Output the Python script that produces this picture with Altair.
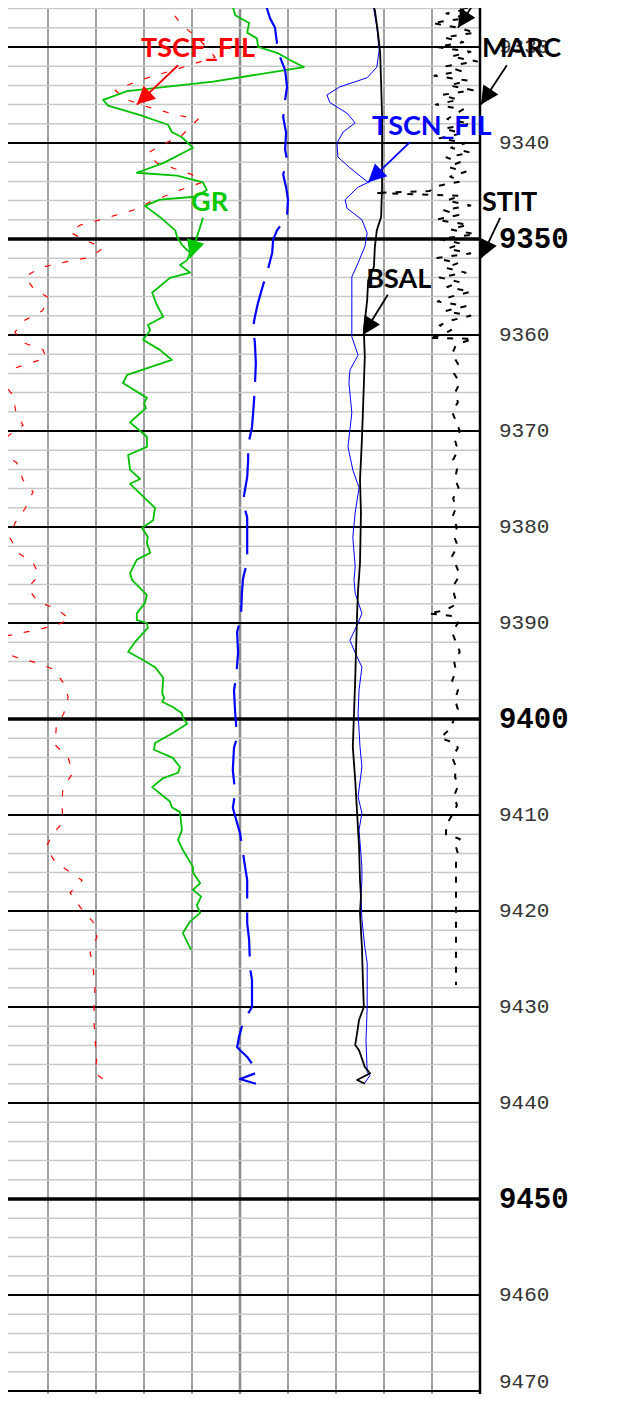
import math
import altair as alt
import pandas as pd

# ---------------- layout of the log sheet (depth in ft, track value 0-100) ----------
TOP_DEPTH = 9325.937
BOTTOM_DEPTH = 9470.3123
TRACK_LEFT = 1.6667
TRACK_RIGHT = 128.5417
W, H = 609, 1386

# ---------------- curves ----------------
GR_DEPTH = [9325.1, 9325.8, 9326.7, 9327.5, 9328.5, 9329.1, 9330.0, 9330.6, 9331.35, 9332.1,
            9333.6, 9334.6, 9335.5, 9336.1, 9337.1, 9338.1, 9338.85, 9339.4, 9340.5, 9342.1,
            9343.1, 9343.4, 9344.1, 9344.9, 9345.6, 9345.9, 9346.55, 9347.7, 9349.1, 9349.8,
            9350.6, 9351.45, 9352.2, 9352.7, 9353.5, 9354.05, 9355.6, 9356.9, 9358.1, 9358.95,
            9359.5, 9360.5, 9361.55, 9362.6, 9364.15, 9365.0, 9366.55, 9367.1, 9367.6, 9369.1,
            9370.6, 9371.65, 9372.5, 9374.05, 9375.0, 9375.5, 9377.2, 9378.0, 9379.3, 9380.1,
            9381.05, 9381.65, 9382.7, 9383.4, 9384.8, 9385.5, 9387.1, 9387.9, 9389.0, 9389.7,
            9390.0, 9390.5, 9392.0, 9393.0, 9393.85, 9394.6, 9395.7, 9397.3, 9397.8, 9398.2,
            9398.75, 9399.4, 9399.9, 9400.5, 9401.45, 9402.5, 9403.2, 9404.05, 9405.0, 9405.6,
            9406.15, 9407.1, 9408.6, 9409.2, 9409.7, 9411.55, 9412.6, 9413.65, 9415.4, 9416.0,
            9416.8, 9417.1, 9417.8, 9418.5, 9419.4, 9420.2, 9421.1, 9422.3, 9424.05]
GR_VAL = [47.3, 48.5, 49.0, 51.9, 51.5, 53.5, 53.8, 57.7, 60.4, 63.3,
          44.4, 26.5, 21.5, 22.5, 29.2, 35.0, 35.8, 37.9, 40.2, 34.0,
          28.5, 36.9, 42.3, 43.1, 40.6, 33.3, 30.2, 33.3, 36.5, 36.9,
          37.9, 39.6, 39.0, 37.5, 39.6, 35.4, 31.7, 32.7, 34.0, 30.8,
          31.3, 29.8, 33.3, 35.8, 26.5, 25.6, 30.6, 30.0, 30.4, 27.1,
          30.6, 30.6, 26.7, 27.1, 29.2, 27.1, 30.6, 32.3, 31.9, 29.6,
          30.8, 30.6, 31.3, 28.5, 27.1, 27.5, 30.6, 30.2, 28.5, 28.5,
          30.6, 30.8, 28.1, 26.7, 29.8, 32.3, 34.0, 33.8, 34.2, 33.8,
          36.0, 37.9, 38.1, 39.0, 36.0, 32.3, 32.1, 36.0, 37.5, 37.1,
          34.0, 31.7, 35.4, 35.8, 37.5, 37.9, 37.1, 38.1, 40.2, 40.2,
          41.3, 41.7, 40.2, 41.9, 41.0, 41.7, 39.6, 38.1, 39.8]

TSCF_DEPTH = [9325.1, 9326.35, 9327.7, 9329.3, 9331.05, 9332.2, 9333.45, 9334.5, 9335.4, 9336.1,
              9337.1, 9337.5, 9339.4, 9340.0, 9341.05, 9342.1, 9342.6, 9343.3, 9344.1, 9344.9,
              9346.15, 9347.0, 9348.0, 9348.55, 9349.3, 9350.1, 9350.95, 9351.9, 9352.5, 9353.0,
              9353.95, 9355.1, 9356.15, 9357.5, 9358.45, 9359.7, 9360.8, 9361.55, 9362.4, 9363.0,
              9363.55, 9364.9, 9366.25, 9368.0, 9369.4, 9370.5, 9372.3, 9373.3, 9375.1, 9376.35,
              9378.1, 9379.6, 9381.15, 9382.7, 9383.75, 9385.0, 9386.35, 9387.8, 9388.45, 9389.6,
              9390.2, 9390.7, 9391.05, 9391.45, 9393.0, 9393.65, 9394.15, 9394.8, 9396.15, 9397.7,
              9399.4, 9400.95, 9402.7, 9404.05, 9405.6, 9407.2, 9408.85, 9410.75, 9412.0, 9413.35,
              9414.9, 9415.95, 9416.8, 9418.1, 9419.6, 9421.15, 9422.7, 9424.3, 9425.95, 9427.9,
              9429.8, 9431.65, 9433.45, 9435.2, 9436.9, 9437.8]
TSCF_VAL = [36.9, 35.8, 37.9, 41.7, 44.8, 37.5, 29.2, 24.0, 26.0, 29.8,
            36.9, 41.3, 37.5, 34.4, 30.8, 32.7, 36.0, 40.0, 42.1, 37.5,
            31.3, 27.7, 20.8, 16.7, 14.6, 17.7, 21.5, 18.8, 12.5, 8.3,
            5.2, 6.9, 10.2, 8.8, 5.2, 3.1, 4.8, 9.0, 9.6, 5.8,
            2.5, 0.4, 2.7, 3.3, 4.8, 1.7, 0.4, 3.5, 4.8, 6.9,
            5.2, 3.1, 2.1, 3.8, 6.9, 8.1, 5.8, 7.9, 11.5, 14.6,
            11.9, 7.9, 4.2, 0.4, 0.4, 3.8, 7.7, 11.0, 13.1, 14.2,
            13.3, 11.7, 11.5, 14.2, 15.2, 13.1, 12.9, 13.1, 11.0, 9.6,
            11.5, 14.6, 17.1, 14.6, 16.7, 19.4, 20.2, 18.8, 19.4, 19.8,
            19.6, 19.6, 19.8, 20.2, 19.8, 22.3]

TSCN_DEPTH = [9325.1, 9326.15, 9327.9, 9330.3, 9332.1, 9333.2, 9334.15, 9335.0, 9335.8, 9336.9,
              9337.9, 9338.85, 9340.0, 9341.45, 9342.6, 9344.1, 9344.6, 9345.9, 9346.8, 9348.0,
              9349.4, 9350.8, 9352.5, 9353.95, 9356.0, 9357.7, 9360.2, 9362.1, 9363.65, 9365.0,
              9368.1, 9371.65, 9374.05, 9375.9, 9378.5, 9381.05, 9384.15, 9385.5, 9386.9, 9389.0,
              9390.0, 9391.8, 9393.1, 9394.6, 9397.0, 9399.4, 9402.9, 9405.0, 9408.1, 9409.8,
              9411.55, 9415.4, 9416.8, 9418.5, 9420.9, 9423.75, 9425.4, 9430.0, 9433.45, 9436.8,
              9437.1, 9437.9]
TSCN_VAL = [78.75, 77.9, 78.5, 79.0, 78.5, 76.5, 70.8, 68.1, 68.75, 72.3,
            74.0, 71.5, 70.2, 70.4, 72.9, 76.7, 74.6, 71.9, 72.3, 75.4,
            76.5, 76.0, 74.6, 73.3, 73.3, 73.3, 73.3, 74.6, 72.9, 72.7,
            73.3, 72.5, 73.5, 74.8, 74.0, 73.5, 74.0, 73.75, 74.0, 75.4,
            74.6, 72.9, 74.0, 75.4, 74.8, 74.6, 75.0, 75.4, 74.6, 75.4,
            74.8, 75.4, 75.4, 75.2, 75.4, 76.0, 76.5, 76.5, 76.25, 76.5,
            77.1, 76.0]

BSAL_DEPTH = [9325.1, 9326.15, 9328.55, 9330.6, 9333.75, 9337.3, 9340.7, 9344.6, 9347.7, 9349.1,
              9350.8, 9352.9, 9354.3, 9356.35, 9359.5, 9362.3, 9368.1, 9370.9, 9375.1, 9378.5,
              9383.75, 9386.55, 9389.0, 9395.9, 9399.4, 9402.9, 9406.35, 9409.8, 9413.3, 9416.8,
              9418.5, 9420.2, 9423.75, 9427.2, 9430.0, 9431.35, 9432.7, 9433.95, 9434.5, 9436.25,
              9436.9, 9437.6, 9438.0]
BSAL_VAL = [77.1, 78.1, 78.75, 79.2, 79.4, 79.6, 79.6, 79.6, 79.4, 78.5,
            78.1, 77.9, 76.7, 76.5, 75.8, 76.0, 75.6, 75.4, 75.0, 75.2,
            75.0, 74.6, 74.4, 74.0, 73.75, 73.5, 74.0, 74.4, 74.8, 75.0,
            75.2, 75.0, 75.4, 75.6, 75.8, 74.8, 74.4, 74.0, 74.8, 76.0,
            77.1, 74.4, 76.0]

BDASH_DEPTH = [9325.3, 9327.0, 9328.0, 9329.6, 9331.0, 9332.4, 9334.15, 9335.5, 9337.3, 9338.95,
               9340.7, 9341.75, 9343.3, 9344.6, 9345.9, 9347.7, 9349.1, 9350.1, 9351.45, 9353.2,
               9354.8, 9356.65, 9358.1, 9359.3, 9360.8, 9362.9, 9365.4, 9367.0, 9369.6, 9371.45,
               9373.0, 9374.8, 9377.4, 9379.0, 9381.35, 9383.65, 9385.0, 9385.5, 9386.9, 9389.4,
               9390.95, 9393.1, 9395.6, 9397.0, 9399.4, 9401.9, 9403.0, 9405.3, 9407.7, 9409.25,
               9411.9, 9413.85, 9415.2, 9416.8, 9418.1, 9419.9, 9421.25, 9423.0, 9425.9, 9427.2,
               9430.0, 9431.65, 9433.1, 9434.2, 9435.2, 9436.8, 9437.5, 9438.0]
BDASH_VAL = [55.2, 56.25, 57.3, 57.7, 58.3, 59.4, 59.8, 59.4, 59.0, 59.6,
             59.4, 59.8, 59.0, 59.6, 60.0, 59.8, 57.7, 56.9, 56.7, 55.8,
             54.8, 53.75, 53.1, 52.7, 53.1, 53.3, 53.1, 52.9, 52.5, 51.7,
             51.7, 51.5, 50.6, 51.5, 51.5, 51.5, 50.8, 50.6, 50.4, 50.2,
             49.4, 49.6, 49.2, 48.75, 49.0, 49.4, 48.75, 48.5, 49.0, 48.5,
             50.0, 50.6, 51.0, 51.5, 51.5, 51.5, 51.5, 51.9, 52.1, 52.5,
             52.5, 50.6, 49.8, 49.4, 51.5, 53.75, 50.0, 53.3]

NOISY_DEPTH = [9325.0, 9325.5, 9326.0, 9326.5, 9327.0, 9327.5, 9328.0, 9328.5, 9329.0, 9329.5,
               9330.0, 9330.5, 9331.0, 9331.5, 9332.0, 9332.5, 9333.0, 9333.5, 9334.0, 9334.5,
               9335.0, 9335.5, 9336.0, 9336.5, 9337.0, 9337.5, 9338.0, 9338.5, 9339.0, 9339.5,
               9340.0, 9340.5, 9341.0, 9341.5, 9342.0, 9342.5, 9343.0, 9343.5, 9344.0, 9344.5,
               9345.0, 9345.2, 9345.5, 9346.0, 9346.5, 9347.0, 9347.5, 9348.0, 9348.5, 9349.0,
               9349.5, 9350.0, 9350.5, 9351.0, 9351.5, 9352.0, 9352.5, 9353.0, 9353.5, 9354.0,
               9354.5, 9355.0, 9355.5, 9356.0, 9356.5, 9357.0, 9357.5, 9358.0, 9358.5, 9359.0,
               9359.5, 9360.0, 9360.3, 9360.4, 9361.0, 9362.0, 9363.0, 9364.0, 9365.0, 9366.0,
               9367.0, 9368.0, 9369.0, 9370.0, 9371.0, 9372.0, 9373.0, 9374.0, 9375.0, 9376.0,
               9377.0, 9378.0, 9379.0, 9380.0, 9381.0, 9382.0, 9383.0, 9384.0, 9385.0, 9386.0,
               9387.0, 9388.0, 9388.7, 9389.0, 9389.3, 9390.0, 9391.0, 9392.0, 9393.0, 9394.0,
               9395.0, 9396.0, 9397.0, 9398.0, 9399.0, 9400.0, 9401.0, 9402.0, 9402.5, 9403.0,
               9404.0, 9405.0, 9406.0, 9407.0, 9408.0, 9409.0, 9410.0, 9411.0, 9412.0, 9412.5,
               9413.0, 9414.0, 9415.0, 9427.7]
NOISY_VAL = [96.0, 91.5, 98.0, 93.0, 97.0, 90.0, 95.5, 99.0, 92.5, 96.5,
             91.0, 98.0, 94.0, 99.4, 93.0, 96.0, 90.5, 97.5, 93.5, 98.5,
             92.0, 95.5, 90.8, 96.5, 94.8, 93.2, 98.0, 92.5, 96.2, 91.6,
             97.0, 94.0, 98.0, 93.0, 95.8, 93.4, 97.0, 93.8, 96.0, 91.0,
             89.5, 78.0, 96.0, 93.0, 98.0, 92.5, 95.5, 90.8, 97.5, 93.8,
             99.0, 91.6, 96.2, 93.2, 98.0, 90.8, 95.5, 92.8, 97.0, 91.6,
             95.8, 93.2, 98.0, 94.0, 91.2, 97.0, 92.8, 98.0, 93.8, 91.6,
             94.0, 92.0, 89.2, 98.5, 95.0, 94.2, 95.4, 94.6, 95.8, 94.8,
             95.4, 94.2, 95.0, 95.8, 94.8, 95.4, 94.4, 95.2, 94.8, 95.6,
             94.4, 95.0, 94.2, 95.2, 94.6, 95.4, 94.2, 95.0, 95.8, 94.6,
             94.6, 95.2, 92.7, 89.2, 94.8, 95.4, 94.2, 95.0, 95.8, 94.6,
             95.0, 94.2, 95.4, 94.8, 95.4, 94.6, 93.8, 91.7, 94.8, 95.4,
             94.2, 95.0, 94.8, 95.4, 94.6, 95.2, 94.2, 93.0, 92.9, 95.8,
             94.8, 95.4, 95.0, 95.0]

# ---------------- depth grid & labels ----------------
MINOR_DEPTHS = list(range(9326, 9472, 2))
MAJOR_DEPTHS = [9330, 9340, 9360, 9370, 9380, 9390, 9410, 9420, 9430, 9440, 9460, 9470]
HEAVY_DEPTHS = [9350, 9400, 9450]
LABEL_DEPTHS = [9330, 9340, 9350, 9360, 9370, 9380, 9390, 9400, 9410, 9420, 9430, 9440, 9450, 9460, 9470]
GRID_V = [10, 20, 30, 40, 60, 70, 80, 90]
CENTER_V = [50]
BORDER_V = [100]
LABEL_X = 103.95

# ---------------- annotations ----------------
ARROW_FROM_V = [37.1, 42.3, 105.6, 99.2, 85.4, 104.2, 80.8]
ARROW_FROM_D = [9331.9, 9347.8, 9331.9, 9325.1, 9339.9, 9347.8, 9355.8]
ARROW_TIP_V = [28.5, 39.6, 100.2, 95.4, 76.7, 100.2, 75.6]
ARROW_TIP_D = [9336.0, 9352.0, 9336.0, 9328.0, 9344.1, 9352.0, 9360.0]
ARROW_COLOR = ["#ff0000", "#00c800", "#000000", "#000000", "#0000ff", "#000000", "#000000"]

NAMES = ["TSCF_FIL", "GR", "MARC", "TSCN_FIL", "STIT", "BSAL"]
NAME_V = [29.4, 39.8, 100.4, 77.5, 100.4, 76.3]
NAME_D = [9331.04, 9347.1, 9331.04, 9339.16, 9347.1, 9355.1]
NAME_COLOR = ["#ff0000", "#00c800", "#000000", "#0000ff", "#000000", "#000000"]

LABEL_FONT = "Lato, Liberation Sans, sans-serif"
DEPTH_FONT = "Liberation Mono, DejaVu Sans Mono, monospace"

# ---------------- scales ----------------
xs = alt.Scale(domain=[TRACK_LEFT, TRACK_RIGHT], nice=False, zero=False)
ys = alt.Scale(domain=[TOP_DEPTH, BOTTOM_DEPTH], nice=False, zero=False, reverse=True)
SX = W / (TRACK_RIGHT - TRACK_LEFT)
SY = H / (BOTTOM_DEPTH - TOP_DEPTH)


def xenc(f):
    return alt.X(f, type="quantitative", scale=xs, axis=None)


def yenc(f):
    return alt.Y(f, type="quantitative", scale=ys, axis=None)


def curve(depths, vals, color, width, dash=None):
    assert len(depths) == len(vals)
    df = pd.DataFrame({"d": depths, "v": vals, "i": list(range(len(depths)))})
    kw = dict(color=color, strokeWidth=width, clip=True, strokeJoin="round")
    if dash:
        kw["strokeDash"] = dash
    return alt.Chart(df).mark_line(**kw).encode(
        x=xenc("v"), y=yenc("d"), order=alt.Order("i:Q"))


def hrules(depths, color, width):
    df = pd.DataFrame({"d": depths, "a": [0.0] * len(depths), "b": [100.0] * len(depths)})
    return alt.Chart(df).mark_rule(color=color, strokeWidth=width, clip=True).encode(
        y=yenc("d"), x=xenc("a"), x2="b:Q")


def vrules(vals, color, width):
    df = pd.DataFrame({"v": vals})
    return alt.Chart(df).mark_rule(color=color, strokeWidth=width).encode(x=xenc("v"))


layers = [
    vrules(GRID_V, "#a0a0a0", 2),
    vrules(CENTER_V, "#8a8a8a", 2.5),
    hrules(MINOR_DEPTHS, "#c8c8c8", 1.5),
    hrules(MAJOR_DEPTHS, "#000000", 2),
    hrules(HEAVY_DEPTHS, "#000000", 3.5),
    vrules(BORDER_V, "#000000", 2.5),
]

lab = pd.DataFrame({"d": LABEL_DEPTHS, "t": [str(d) for d in LABEL_DEPTHS],
                    "x": [LABEL_X] * len(LABEL_DEPTHS)})
last = LABEL_DEPTHS[-1]
lab_norm = lab[(lab["d"] % 50 != 0) & (lab["d"] != last)]
lab_last = lab[lab["d"] == last]
lab_bold = lab[lab["d"] % 50 == 0]
norm_style = dict(font=DEPTH_FONT, fontSize=21, align="left", baseline="middle", color="#333333")
layers.append(alt.Chart(lab_norm).mark_text(**norm_style).encode(
    x=xenc("x"), y=yenc("d"), text="t:N"))
layers.append(alt.Chart(lab_last).mark_text(dy=-9, **norm_style).encode(
    x=xenc("x"), y=yenc("d"), text="t:N"))
layers.append(alt.Chart(lab_bold).mark_text(font=DEPTH_FONT, fontSize=29, fontWeight="bold",
                                            align="left", baseline="middle", color="#000000").encode(
    x=xenc("x"), y=yenc("d"), text="t:N"))

layers += [
    curve(TSCF_DEPTH, TSCF_VAL, "#ff0000", 1.2, [6, 12]),
    curve(GR_DEPTH, GR_VAL, "#00c000", 1.8),
    curve(BDASH_DEPTH, BDASH_VAL, "#0000ff", 2.2, [44, 14]),
    curve(NOISY_DEPTH, NOISY_VAL, "#000000", 2, [6, 9]),
    curve(TSCN_DEPTH, TSCN_VAL, "#0000ff", 1),
    curve(BSAL_DEPTH, BSAL_VAL, "#000000", 1.8),
]

ang = []
for fv, fd, tv, td in zip(ARROW_FROM_V, ARROW_FROM_D, ARROW_TIP_V, ARROW_TIP_D):
    dx = (tv - fv) * SX
    dy = (td - fd) * SY
    ang.append(math.degrees(math.atan2(dx, -dy)) % 360)
arr = pd.DataFrame({"fv": ARROW_FROM_V, "fd": ARROW_FROM_D, "tv": ARROW_TIP_V,
                    "td": ARROW_TIP_D, "c": ARROW_COLOR, "a": ang})
layers.append(alt.Chart(arr).mark_rule(strokeWidth=1.8).encode(
    x=xenc("fv"), y=yenc("fd"), x2="tv:Q", y2="td:Q", color=alt.Color("c:N", scale=None)))
layers.append(alt.Chart(arr).mark_point(shape="M0,0L-1,2L1,2Z", filled=True, size=324,
                                        opacity=1, strokeWidth=0).encode(
    x=xenc("tv"), y=yenc("td"), color=alt.Color("c:N", scale=None),
    angle=alt.Angle("a:Q", scale=None)))

names = pd.DataFrame({"t": NAMES, "v": NAME_V, "d": NAME_D, "c": NAME_COLOR})
layers.append(alt.Chart(names).mark_text(font=LABEL_FONT, fontSize=27, fontWeight="bold",
                                         align="left", baseline="alphabetic").encode(
    x=xenc("v"), y=yenc("d"), text="t:N", color=alt.Color("c:N", scale=None)))

chart = alt.layer(*layers).properties(
    width=W, height=H, autosize=alt.AutoSizeParams(type="none"), padding=0
).configure_view(stroke=None)

chart.save("out.html", embed_options={"renderer": "svg", "actions": False})
